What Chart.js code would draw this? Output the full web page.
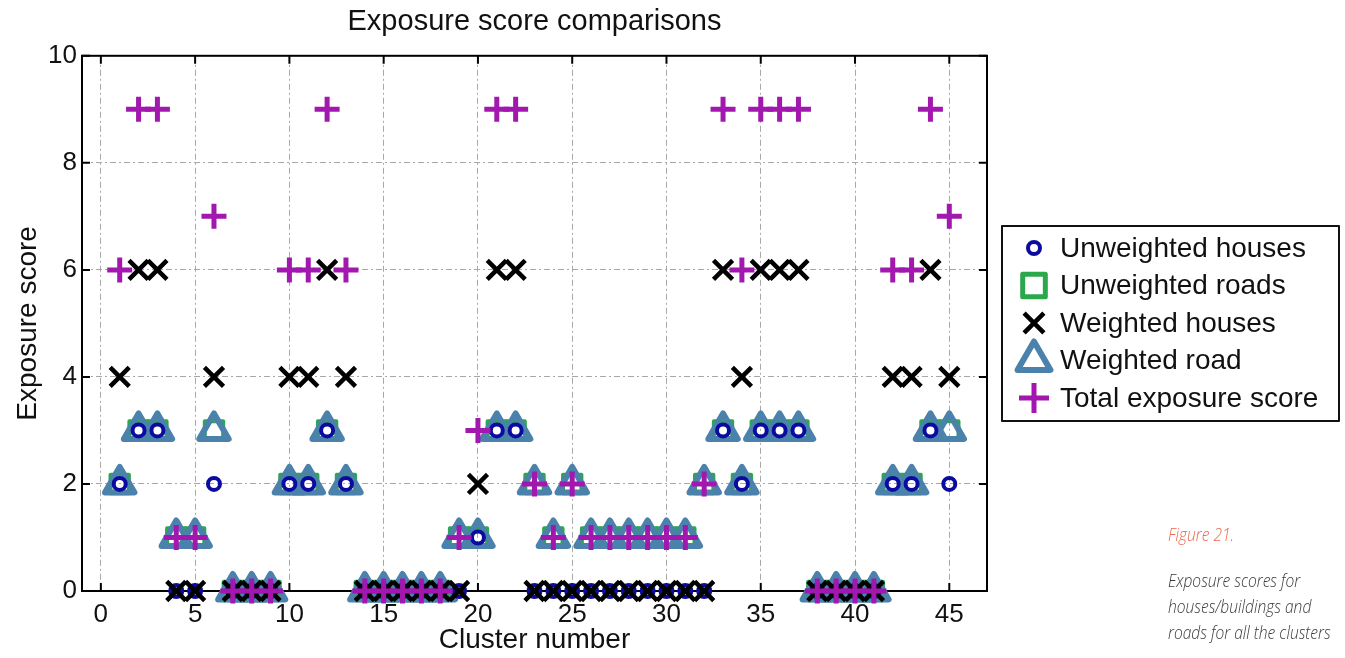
<!DOCTYPE html>
<html>
<head>
<meta charset="utf-8">
<script src="https://cdn.jsdelivr.net/npm/chart.js@4.4.1/dist/chart.umd.min.js"></script>
<style>
  html, body { margin: 0; padding: 0; background: #fff; }
  #wrap { position: relative; width: 1345px; height: 658px; }
  canvas { position: absolute; left: 0; top: 0; }
  .cap { position: absolute; left: 1168px; font-family: 'Open Sans', sans-serif; font-style: italic;
         font-weight: 300; font-size: 19px; line-height: 26px; color: #3a3a3a; white-space: nowrap;
         transform: scaleX(0.82); transform-origin: 0 0; }
</style>
</head>
<body>
<div id="wrap">
  <canvas id="chart" width="1345" height="658"></canvas>
  <div class="cap" style="top:521px;color:#f0654d">Figure 21.</div>
  <div class="cap" style="top:567px">Exposure scores for<br>houses/buildings and<br>roads for all the clusters</div>
</div>
<script>
// data, one value per cluster
const clusters = [1,2,3,4,5,6,7,8,9,10,11,12,13,14,15,16,17,18,19,20,21,22,23,24,25,26,27,28,29,30,31,32,33,34,35,36,37,38,39,40,41,42,43,44,45];
const unweightedHouses = [2,3,3,0,0,2,0,0,0,2,2,3,2,0,0,0,0,0,0,1,3,3,0,0,0,0,0,0,0,0,0,0,3,2,3,3,3,0,0,0,0,2,2,3,2];
const unweightedRoads  = [2,3,3,1,1,3,0,0,0,2,2,3,2,0,0,0,0,0,1,1,3,3,2,1,2,1,1,1,1,1,1,2,3,2,3,3,3,0,0,0,0,2,2,3,3];
const weightedHouses   = [4,6,6,0,0,4,0,0,0,4,4,6,4,0,0,0,0,0,0,2,6,6,0,0,0,0,0,0,0,0,0,0,6,4,6,6,6,0,0,0,0,4,4,6,4];
const weightedRoads    = [2,3,3,1,1,3,0,0,0,2,2,3,2,0,0,0,0,0,1,1,3,3,2,1,2,1,1,1,1,1,1,2,3,2,3,3,3,0,0,0,0,2,2,3,3];
const totalScore       = [6,9,9,1,1,7,0,0,0,6,6,9,6,0,0,0,0,0,1,3,9,9,2,1,2,1,1,1,1,1,1,2,9,6,9,9,9,0,0,0,0,6,6,9,7];
const xTicks = [0,5,10,15,20,25,30,35,40,45];
const yTicks = [0,2,4,6,8,10];

const fontFam = "'Liberation Sans', Arial, sans-serif";
const pts = arr => clusters.map((c, i) => ({ x: c, y: arr[i] }));

// marker sizes used in the legend box (bigger than in the plot)
const legendMarks = [
  { r: 6, bw: 4 },
  { r: 16, bw: 5 },
  { r: 14, bw: 4.5 },
  { r: 19, bw: 6 },
  { r: 15, bw: 5 }
];

const frame = {
  id: 'frame',
  beforeDatasetsDraw(chart) {
    const { ctx, chartArea: a, scales: { x, y } } = chart;
    ctx.save();
    ctx.strokeStyle = '#000';
    ctx.lineWidth = 2;
    ctx.strokeRect(a.left, a.top, a.right - a.left, a.bottom - a.top);
    ctx.beginPath();
    x.ticks.forEach(t => {
      const px = x.getPixelForValue(t.value);
      ctx.moveTo(px, a.bottom); ctx.lineTo(px, a.bottom - 8);
      ctx.moveTo(px, a.top); ctx.lineTo(px, a.top + 8);
    });
    y.ticks.forEach(t => {
      const py = y.getPixelForValue(t.value);
      ctx.moveTo(a.left, py); ctx.lineTo(a.left + 8, py);
      ctx.moveTo(a.right, py); ctx.lineTo(a.right - 8, py);
    });
    ctx.stroke();
    ctx.restore();
    ctx.lineJoin = 'round';
  }
};

const boxLegend = {
  id: 'boxLegend',
  afterDraw(chart) {
    const ctx = chart.ctx, a = chart.chartArea;
    const bx = a.right + 15, by = 226, bw = 337, bh = 195;
    ctx.save();
    ctx.fillStyle = '#fff';
    ctx.fillRect(bx, by, bw, bh);
    ctx.strokeStyle = '#111';
    ctx.lineWidth = 2;
    ctx.strokeRect(bx, by, bw, bh);
    ctx.lineJoin = 'round';
    chart.data.datasets.forEach((ds, i) => {
      const yy = by + 22 + i * 37.5;
      const m = legendMarks[i];
      ctx.strokeStyle = ds.pointBorderColor;
      ctx.fillStyle = 'rgba(0,0,0,0)';
      ctx.lineWidth = m.bw;
      Chart.helpers.drawPoint(ctx, { pointStyle: ds.pointStyle, radius: m.r, rotation: 0, borderWidth: m.bw }, bx + 32, yy);
      ctx.fillStyle = '#111';
      ctx.font = '28px ' + fontFam;
      ctx.textBaseline = 'middle';
      ctx.textAlign = 'left';
      ctx.fillText(ds.label, bx + 58, yy + 1);
    });
    ctx.restore();
  }
};

const ctx = document.getElementById('chart').getContext('2d');
const chart = new Chart(ctx, {
  type: 'scatter',
  data: {
    datasets: [
      { label: 'Unweighted houses', data: pts(unweightedHouses), pointStyle: 'circle', pointRadius: 6, pointBorderWidth: 4,
        pointBorderColor: '#0b0ba0', pointBackgroundColor: 'rgba(0,0,0,0)', order: 3, clip: false },
      { label: 'Unweighted roads', data: pts(unweightedRoads), pointStyle: 'rect', pointRadius: 13, pointBorderWidth: 4,
        pointBorderColor: '#2ca84c', pointBackgroundColor: 'rgba(0,0,0,0)', order: 5, clip: false },
      { label: 'Weighted houses', data: pts(weightedHouses), pointStyle: 'crossRot', pointRadius: 13.5, pointBorderWidth: 4.5,
        pointBorderColor: '#000000', pointBackgroundColor: 'rgba(0,0,0,0)', order: 2, clip: false },
      { label: 'Weighted road', data: pts(weightedRoads), pointStyle: 'triangle', pointRadius: 17, pointBorderWidth: 6,
        pointBorderColor: '#4a82ab', pointBackgroundColor: 'rgba(0,0,0,0)', order: 4, clip: false },
      { label: 'Total exposure score', data: pts(totalScore), pointStyle: 'cross', pointRadius: 12.5, pointBorderWidth: 5,
        pointBorderColor: '#a218ae', pointBackgroundColor: 'rgba(0,0,0,0)', order: 1, clip: false }
    ]
  },
  options: {
    responsive: false,
    animation: false,
    layout: { padding: { left: 0, right: 358, top: 0, bottom: 0 } },
    plugins: {
      legend: { display: false },
      tooltip: { enabled: false },
      title: {
        display: true,
        text: 'Exposure score comparisons',
        fullSize: false,
        color: '#111',
        font: { family: fontFam, size: 29, weight: 'normal' },
        padding: { top: 5, bottom: 16 }
      }
    },
    scales: {
      x: {
        type: 'linear',
        min: -1,
        max: 47,
        afterBuildTicks: s => { s.ticks = xTicks.map(v => ({ value: v })); },
        ticks: { includeBounds: false, padding: 8, color: '#111', font: { family: fontFam, size: 26 } },
        grid: { color: '#a8a8a8', lineWidth: 1, drawTicks: false },
        border: { display: false, dash: [6, 3, 2, 3] },
        title: { display: true, text: 'Cluster number', color: '#111', font: { family: fontFam, size: 28 }, padding: { top: 0, bottom: 1 } },
        afterFit: s => { s.height = 67; }
      },
      y: {
        min: 0,
        max: 10,
        afterBuildTicks: s => { s.ticks = yTicks.map(v => ({ value: v })); },
        ticks: { padding: 5, color: '#111', font: { family: fontFam, size: 26 } },
        grid: { color: '#a8a8a8', lineWidth: 1, drawTicks: false },
        border: { display: false, dash: [6, 3, 2, 3] },
        title: { display: true, text: 'Exposure score', color: '#111', font: { family: fontFam, size: 28 }, padding: { top: 11, bottom: 0 } },
        afterFit: s => { s.width = 82; }
      }
    }
  },
  plugins: [frame, boxLegend]
});
</script>
</body>
</html>
